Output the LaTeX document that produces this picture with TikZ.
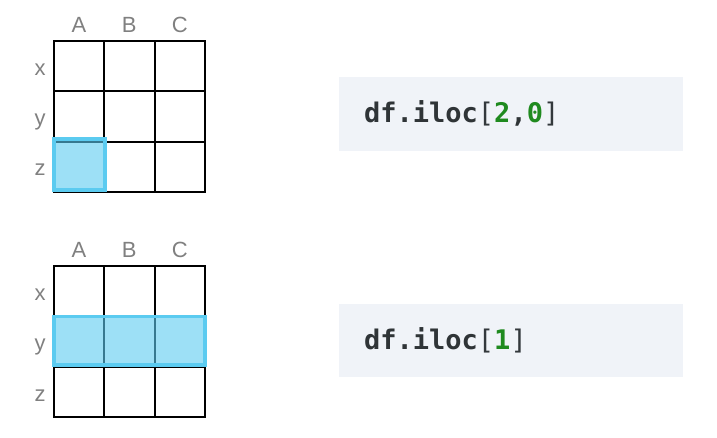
\documentclass[tikz,border=0pt]{standalone}
\usepackage{fontspec}
\setmainfont{Liberation Sans}
\setmonofont{DejaVu Sans Mono}
\usetikzlibrary{positioning}
\definecolor{lblgray}{HTML}{808080}
\definecolor{hlblue}{HTML}{5BCBF0}
\definecolor{codebg}{HTML}{F0F3F8}
\definecolor{codeink}{HTML}{2F3437}
\definecolor{brkgray}{HTML}{33383C}
\definecolor{numgreen}{HTML}{1F8A1F}
\newcommand{\brk}[1]{{\mdseries\textcolor{brkgray}{#1}}}
\begin{document}
\begin{tikzpicture}[x=1pt,y=-1pt,
	lbl/.style={text=lblgray,font=\fontsize{22}{22}\selectfont,inner sep=0pt,anchor=base},
	cellgrid/.style={line width=2pt,black,line cap=rect},
	hl/.style={draw=hlblue,fill=hlblue,fill opacity=0.6,line width=3.5pt},
	codebox/.style={fill=codebg,minimum width=344pt,minimum height=73.5pt,inner sep=0pt,anchor=north west},
	code/.style={text=codeink,font=\ttfamily\bfseries\fontsize{27}{27}\selectfont,inner sep=0pt,anchor=base west}]
	\useasboundingbox (0,0) rectangle (717,438);
	% the two 3x3 frames
	\foreach \gy/\gn in {41/top,266/bot} {
		\foreach \i in {0,...,3} {
			\draw[cellgrid] (54+\i*50.33,\gy) -- (54+\i*50.33,\gy+151);
			\draw[cellgrid] (54,\gy+\i*50.33) -- (205,\gy+\i*50.33);
		}
		\node[lbl] (\gn-A) at (79,\gy-8.7) {A};
		\node[lbl] (\gn-B) at (129.3,\gy-8.7) {B};
		\node[lbl] (\gn-C) at (179.7,\gy-8.7) {C};
		\node[lbl] (\gn-x) at (40,\gy+34.3) {x};
		\node[lbl] (\gn-y) at (40,\gy+84.6) {y};
		\node[lbl] (\gn-z) at (40,\gy+135) {z};
	}
	% selections
	\draw[hl] (54,139) rectangle (105,190);
	\draw[hl] (54,316.7) rectangle (205,365);
	% code
	\node[codebox] (box1) at (339,77.3) {};
	\node[code] (cmd1) at (364,123) {df.iloc\brk{[}\textcolor{numgreen}{2},\textcolor{numgreen}{0}\brk{]}};
	\node[codebox] (box2) at (339,303.3) {};
	\node[code] (cmd2) at (364,349) {df.iloc\brk{[}\textcolor{numgreen}{1}\brk{]}};
\end{tikzpicture}
\end{document}
